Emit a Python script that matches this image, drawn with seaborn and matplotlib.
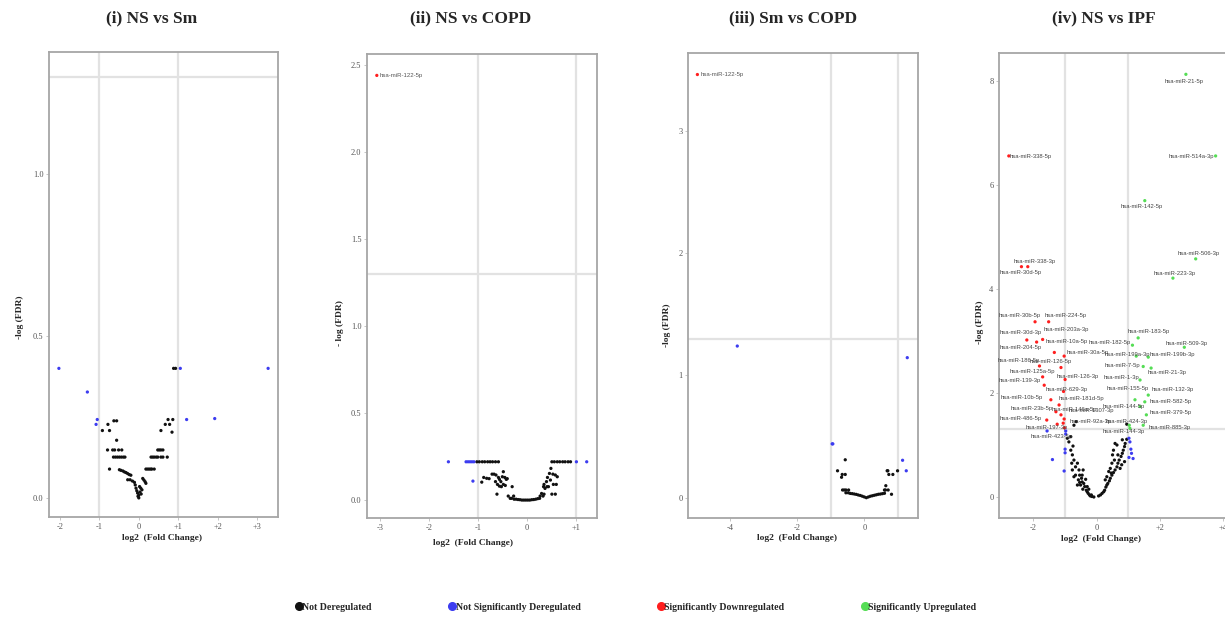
import pandas as pd
import seaborn as sns
import matplotlib.pyplot as plt
from matplotlib.lines import Line2D

W, H = 1225, 617

# ---- data (log2 fold change, -log FDR) ----
p1_not_dereg = [
    (0.88, 0.40), (0.93, 0.40),
    (-0.78, 0.227), (-0.63, 0.238), (-0.56, 0.238), (-0.92, 0.208), (-0.74, 0.208), (-0.56, 0.178),
    (-0.79, 0.148), (-0.66, 0.148), (-0.61, 0.148), (-0.51, 0.148), (-0.43, 0.148),
    (-0.64, 0.126), (-0.59, 0.126), (-0.54, 0.126), (-0.49, 0.126), (-0.44, 0.126), (-0.39, 0.126), (-0.35, 0.126),
    (-0.74, 0.089), (-0.49, 0.087), (-0.45, 0.085), (-0.40, 0.083), (-0.36, 0.080), (-0.32, 0.078),
    (-0.28, 0.075), (-0.24, 0.072), (-0.20, 0.070), (-0.28, 0.056), (-0.22, 0.056), (-0.16, 0.052),
    (-0.11, 0.048), (-0.09, 0.040), (-0.07, 0.030), (-0.05, 0.022), (-0.03, 0.015), (-0.02, 0.005),
    (0.0, 0.008), (0.0, 0.0),
    (0.74, 0.242), (0.86, 0.242), (0.67, 0.227), (0.78, 0.227), (0.84, 0.203), (0.56, 0.208),
    (0.48, 0.148), (0.52, 0.148), (0.56, 0.148), (0.61, 0.148),
    (0.31, 0.126), (0.35, 0.126), (0.39, 0.126), (0.44, 0.126), (0.48, 0.126), (0.56, 0.126), (0.61, 0.126), (0.72, 0.126),
    (0.18, 0.089), (0.22, 0.089), (0.26, 0.089), (0.30, 0.089), (0.33, 0.089), (0.39, 0.089),
    (0.10, 0.060), (0.13, 0.055), (0.16, 0.050), (0.18, 0.045),
    (0.02, 0.035), (0.05, 0.030), (0.08, 0.025), (0.03, 0.018), (0.06, 0.012),
]
p1_not_sig = [(-2.02, 0.40), (-1.30, 0.327), (-1.05, 0.242), (-1.08, 0.227),
              (1.05, 0.40), (1.21, 0.242), (1.92, 0.245), (3.27, 0.40)]
p1_down = []
p1_up = []

p2_not_dereg = [
    (-1.02, 0.22), (-0.97, 0.22), (-0.91, 0.22), (-0.86, 0.22), (-0.80, 0.22), (-0.75, 0.22),
    (-0.70, 0.22), (-0.64, 0.22), (-0.58, 0.22),
    (0.51, 0.22), (0.56, 0.22), (0.62, 0.22), (0.67, 0.22), (0.73, 0.22), (0.78, 0.22), (0.84, 0.22), (0.89, 0.22),
    (-0.92, 0.103), (-0.88, 0.130), (-0.82, 0.125), (-0.77, 0.123), (-0.71, 0.149), (-0.67, 0.149),
    (-0.63, 0.144), (-0.58, 0.130), (-0.56, 0.119), (-0.53, 0.106), (-0.50, 0.134), (-0.48, 0.163),
    (-0.45, 0.130), (-0.42, 0.119), (-0.40, 0.123), (-0.64, 0.106), (-0.60, 0.090), (-0.56, 0.080),
    (-0.52, 0.077), (-0.48, 0.090), (-0.44, 0.084), (-0.61, 0.034), (-0.30, 0.077), (-0.38, 0.023),
    (-0.34, 0.010), (-0.31, 0.010), (-0.27, 0.023),
    (-0.26, 0.005), (-0.22, 0.005), (-0.18, 0.003), (-0.14, 0.002), (-0.10, 0.0), (-0.06, 0.0),
    (-0.02, 0.0), (0.02, 0.0), (0.06, 0.0), (0.10, 0.002), (0.14, 0.003), (0.18, 0.005), (0.22, 0.008), (0.26, 0.010),
    (0.27, 0.023), (0.30, 0.038), (0.34, 0.077), (0.35, 0.090), (0.40, 0.106), (0.42, 0.130),
    (0.46, 0.153), (0.49, 0.182), (0.53, 0.149), (0.58, 0.144), (0.62, 0.134), (0.54, 0.090),
    (0.60, 0.090), (0.37, 0.067), (0.44, 0.077), (0.51, 0.034), (0.58, 0.034), (0.33, 0.023),
    (0.35, 0.034), (0.48, 0.115), (0.41, 0.077),
]
p2_not_sig = [(-1.60, 0.22), (-1.24, 0.22), (-1.20, 0.22), (-1.16, 0.22), (-1.12, 0.22), (-1.08, 0.22),
              (-1.10, 0.109), (1.01, 0.22), (1.22, 0.22)]
p2_down = [(-3.06, 2.44)]
p2_down_labels = ["hsa-miR-122-5p"]
p2_up = []

p3_not_dereg = [
    (-0.57, 0.31), (-0.80, 0.22), (-0.68, 0.167), (-0.66, 0.19), (-0.57, 0.19),
    (-0.65, 0.063), (-0.60, 0.063), (-0.55, 0.063), (-0.47, 0.063),
    (-0.55, 0.040), (-0.48, 0.040), (-0.42, 0.035), (-0.36, 0.033), (-0.30, 0.030), (-0.24, 0.027),
    (-0.18, 0.022), (-0.12, 0.018), (-0.06, 0.012), (0.0, 0.006), (0.06, 0.0), (0.12, 0.006),
    (0.18, 0.012), (0.24, 0.016), (0.30, 0.020), (0.36, 0.024), (0.42, 0.028), (0.48, 0.030),
    (0.54, 0.033), (0.60, 0.036),
    (0.68, 0.22), (0.73, 0.19), (0.85, 0.19), (0.99, 0.22), (0.70, 0.22), (0.64, 0.098),
    (0.60, 0.063), (0.63, 0.063), (0.71, 0.063), (0.81, 0.028),
]
p3_not_sig = [(-3.79, 1.24), (1.28, 1.145), (-0.96, 0.44), (-0.94, 0.44), (1.14, 0.306), (1.25, 0.22)]
p3_down = [(-4.98, 3.46)]
p3_down_labels = ["hsa-miR-122-5p"]
p3_up = []

p4_not_dereg = [
    (-0.82, 0.90), (-0.77, 0.81), (-0.72, 0.71), (-0.79, 0.65), (-0.67, 0.58), (-0.61, 0.65),
    (-0.56, 0.52), (-0.72, 0.39), (-0.54, 0.42), (-0.48, 0.36), (-0.46, 0.29), (-0.41, 0.26),
    (-0.51, 0.23), (-0.38, 0.20), (-0.44, 0.15), (-0.33, 0.13), (-0.30, 0.10), (-0.27, 0.07),
    (-0.23, 0.04), (-0.20, 0.02), (-0.17, 0.04), (-0.15, 0.01), (-0.09, 0.00), (-0.67, 0.42),
    (-0.58, 0.33), (-0.54, 0.28), (-0.61, 0.23), (-0.46, 0.42), (-0.43, 0.52), (-0.77, 0.52),
    (-0.30, 0.20), (-0.25, 0.15), (-0.35, 0.34), (-0.88, 1.06), (-0.82, 1.16), (-0.75, 0.98),
    (-0.93, 1.13), (-0.72, 1.38), (-0.65, 1.45),
    (0.06, 0.02), (0.12, 0.04), (0.17, 0.07), (0.22, 0.10), (0.25, 0.13), (0.29, 0.19),
    (0.32, 0.23), (0.35, 0.26), (0.40, 0.31), (0.43, 0.36), (0.48, 0.42), (0.53, 0.47),
    (0.58, 0.52), (0.64, 0.58), (0.67, 0.65), (0.71, 0.71), (0.77, 0.78), (0.81, 0.84),
    (0.84, 0.90), (0.88, 0.97), (0.90, 1.03), (0.95, 1.11), (0.58, 1.03), (0.64, 1.00),
    (0.50, 0.81), (0.56, 0.71), (0.43, 0.55), (0.38, 0.49), (0.46, 0.46), (0.32, 0.39),
    (0.27, 0.33), (0.48, 0.65), (0.74, 0.55), (0.79, 0.62), (0.88, 0.68), (0.67, 0.81),
    (0.53, 0.90), (0.81, 1.10), (0.95, 1.40),
]
p4_not_sig = [(-1.57, 1.27), (-1.40, 0.72), (-1.03, 0.50), (-1.00, 0.92), (-1.00, 0.85), (-0.98, 1.27),
              (-0.98, 1.21), (1.02, 1.13), (1.05, 1.06), (1.08, 0.92), (1.10, 0.84), (1.02, 0.76), (1.15, 0.74)]
p4_down = [(-2.78, 6.56), (-2.18, 4.43), (-2.38, 4.43), (-1.95, 3.37), (-1.52, 3.37), (-2.21, 3.02),
           (-1.90, 2.98), (-1.71, 3.03), (-1.34, 2.78), (-1.03, 2.71), (-1.81, 2.52), (-1.13, 2.49),
           (-1.71, 2.31), (-1.00, 2.26), (-1.66, 2.15), (-1.05, 2.03), (-1.45, 1.87), (-1.19, 1.77),
           (-1.29, 1.64), (-1.13, 1.58), (-1.03, 1.50), (-1.58, 1.48), (-1.06, 1.42), (-1.25, 1.40),
           (-1.02, 1.33)]
p4_down_labels = ["hsa-miR-338-5p", "hsa-miR-338-3p", "hsa-miR-30d-5p", "hsa-miR-30b-5p", "hsa-miR-224-5p",
                  "hsa-miR-30d-3p", "hsa-miR-204-5p", "hsa-miR-203a-3p", "hsa-miR-10a-5p", "hsa-miR-30a-5p",
                  "hsa-miR-186-5p", "hsa-miR-126-5p", "hsa-miR-125a-5p", "hsa-miR-126-3p", "hsa-miR-139-3p",
                  "hsa-miR-629-3p", "hsa-miR-10b-5p", "hsa-miR-181d-5p", "hsa-miR-23b-5p", "hsa-miR-146a-5p",
                  "hsa-miR-1307-3p", "hsa-miR-486-5p", "hsa-miR-92a-3p", "hsa-miR-197-3p", "hsa-miR-423-5p"]
p4_up = [(2.82, 8.13), (3.76, 6.56), (1.52, 5.70), (3.13, 4.58), (2.41, 4.21), (1.31, 3.06), (2.77, 2.88),
         (1.13, 2.92), (1.25, 2.71), (1.63, 2.69), (1.47, 2.51), (1.72, 2.48), (1.37, 2.25), (1.21, 1.87),
         (1.63, 1.96), (1.52, 1.83), (1.37, 1.74), (1.57, 1.58), (1.03, 1.38), (1.47, 1.38), (1.05, 1.32)]
p4_up_labels = ["hsa-miR-21-5p", "hsa-miR-514a-3p", "hsa-miR-142-5p", "hsa-miR-506-3p", "hsa-miR-223-3p",
                "hsa-miR-183-5p", "hsa-miR-509-3p", "hsa-miR-182-5p", "hsa-miR-199a-3p", "hsa-miR-199b-3p",
                "hsa-miR-7-5p", "hsa-miR-21-3p", "hsa-miR-1-3p", "hsa-miR-155-5p", "hsa-miR-132-3p",
                "hsa-miR-582-5p", "hsa-miR-144-5p", "hsa-miR-379-5p", "hsa-miR-424-3p", "hsa-miR-885-3p",
                "hsa-miR-144-3p"]

# label placement (pixel offsets of label centre from its point)
p4_down_offsets = [(22, -1), (7, 5), (-1, -6), (-15, 6), (17, 6), (-6, 7), (-16, -5), (24, 10), (12, 11),
                   (24, 4), (-21, 5), (-10, 6), (-10, 5), (13, 3), (-24, 5), (3, 2), (-29, 2), (22, 6),
                   (-24, 3), (13, 5), (27, 9), (-26, 2), (27, 2), (-10, -3), (-13, -9)]
p4_up_offsets = [(-2, -7), (-24, -1), (-3, -6), (3, 5), (2, 5), (11, 6), (2, 4), (-23, 3), (-9, 2), (24, 3),
                 (-21, 1), (16, -4), (-19, 3), (-7, 11), (24, 6), (26, 0), (-16, 0), (24, 2), (-3, 4),
                 (26, -2), (-6, -3)]

titles = ["(i) NS vs Sm", "(ii) NS vs COPD", "(iii) Sm vs COPD", "(iv) NS vs IPF"]
ylabels = ["-log (FDR)", "- log (FDR)", "-log (FDR)", "-log (FDR)"]
xticks = [[-2, -1, 0, 1, 2, 3], [-3, -2, -1, 0, 1], [-4, -2, 0], [-2, 0, 2, 4]]
xticklabels = [["-2", "-1", "0", "+1", "+2", "+3"], ["-3", "-2", "-1", "0", "+1"], ["-4", "-2", "0"],
               ["-2", "0", "+2", "+4"]]
yticks = [[0.0, 0.5, 1.0], [0.0, 0.5, 1.0, 1.5, 2.0, 2.5], [0, 1, 2, 3], [0, 2, 4, 6, 8]]
yticklabels = [["0.0", "0.5", "1.0"], ["0.0", "0.5", "1.0", "1.5", "2.0", "2.5"], ["0", "1", "2", "3"],
               ["0", "2", "4", "6", "8"]]
categories = ["Not Deregulated", "Not Significantly Deregulated", "Significantly Downregulated",
              "Significantly Upregulated"]

palette = dict(zip(categories, ["#111111", "#3c3cf0", "#ff1e1e", "#55dd55"]))

# ---- layout ----
sns.set_theme(style="white")
plt.rcParams["font.family"] = ["Liberation Serif", "DejaVu Serif"]

fig = plt.figure(figsize=(W / 100, H / 100), dpi=100)


def box(x0, y0, x1, y1):
    return [x0 / W, 1 - y1 / H, (x1 - x0) / W, (y1 - y0) / H]


boxes = [box(49, 52, 278, 517), box(367, 54, 597, 518), box(688, 53, 918, 518), box(999, 53, 1227, 518)]
xlims = [(-2.27, 3.52), (-3.26, 1.43), (-5.26, 1.60), (-3.09, 4.12)]
ylims = [(-0.059, 1.377), (-0.103, 2.563), (-0.166, 3.636), (-0.404, 8.54)]
ylab_pos = [(-0.11, 0.43), (-0.10, 0.42), (-0.074, 0.415), (-0.066, 0.42)]
xlab_pos = [(0.493, -0.037), (0.46, -0.045), (0.474, -0.034), (0.447, -0.037)]
title_x = [152, 471, 793, 1104]

panels = [
    (p1_not_dereg, p1_not_sig, p1_down, p1_up, [], [], [], []),
    (p2_not_dereg, p2_not_sig, p2_down, p2_up, p2_down_labels, [], None, None),
    (p3_not_dereg, p3_not_sig, p3_down, p3_up, p3_down_labels, [], None, None),
    (p4_not_dereg, p4_not_sig, p4_down, p4_up, p4_down_labels, p4_up_labels, p4_down_offsets, p4_up_offsets),
]

for i, (nd, ns, dn, up, dn_lab, up_lab, dn_off, up_off) in enumerate(panels):
    ax = fig.add_axes(boxes[i])
    rows = []
    for cat, pts in zip(categories, [nd, ns, dn, up]):
        rows += [{"log2FC": x, "logFDR": y, "status": cat} for x, y in pts]
    df = pd.DataFrame(rows)

    ax.axhline(1.3, color="#e2e2e2", lw=1.6, zorder=0)
    ax.axvline(-1, color="#e2e2e2", lw=1.6, zorder=0)
    ax.axvline(1, color="#e2e2e2", lw=1.6, zorder=0)

    sns.scatterplot(data=df, x="log2FC", y="logFDR", hue="status", palette=palette,
                    s=5.5, linewidth=0, legend=False, ax=ax, zorder=3)

    if i in (1, 2):
        for (x, y), lab in zip(dn, dn_lab):
            ax.annotate(lab, (x, y), xytext=(3, 0), textcoords="offset pixels", ha="left", va="center",
                        fontsize=4.3, color="#555555", family=["Liberation Sans", "DejaVu Sans"], zorder=4)
    if i == 3:
        for pts, labs, offs in [(dn, dn_lab, dn_off), (up, up_lab, up_off)]:
            for (x, y), lab, (dx, dy) in zip(pts, labs, offs):
                ax.annotate(lab, (x, y), xytext=(dx, dy), textcoords="offset pixels", ha="center",
                            va="center", fontsize=4.2, color="#444444",
                            family=["Liberation Sans", "DejaVu Sans"], zorder=4)

    ax.set_xlim(*xlims[i])
    ax.set_ylim(*ylims[i])
    ax.set_xticks(xticks[i])
    ax.set_xticklabels(xticklabels[i])
    ax.set_yticks(yticks[i])
    ax.set_yticklabels(yticklabels[i])
    ax.tick_params(axis="both", length=2, width=0.6, color="#bbbbbb", pad=2, labelsize=6,
                   labelcolor="#555555", bottom=True, left=True)
    for sp in ax.spines.values():
        sp.set_color("#a6a6a6")
        sp.set_linewidth(1.3)

    ax.set_xlabel("log2  (Fold Change)", fontsize=6.8, fontweight="bold")
    ax.set_ylabel(ylabels[i], fontsize=6.8, fontweight="bold")
    ax.xaxis.set_label_coords(*xlab_pos[i])
    ax.yaxis.set_label_coords(*ylab_pos[i])

    fig.text(title_x[i] / W, 1 - 18 / H, titles[i], ha="center", va="center",
             fontsize=12.5, fontweight="bold")

handles = [Line2D([], [], marker="o", ls="", color=palette[c], markersize=5.5) for c in categories]
fig.legend(handles, categories, loc="center left", bbox_to_anchor=(291 / W, 1 - 607 / H), ncol=4,
           frameon=False, handlelength=0.6, handletextpad=0.05, columnspacing=7.85, borderpad=0,
           prop={"size": 7.1, "weight": "bold"})

fig.savefig("out.png", dpi=100)
